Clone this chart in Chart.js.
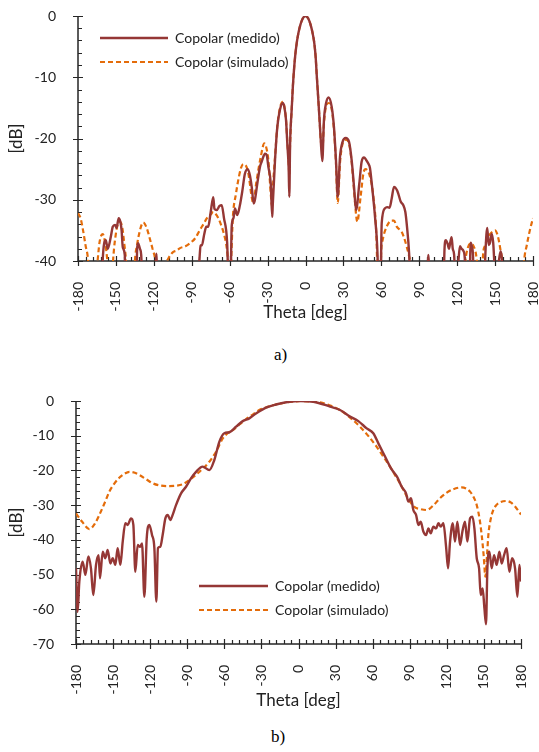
<!DOCTYPE html>
<html lang="es">
  <head>
    <meta charset="utf-8" />
    <title>Copolar medido vs simulado</title>
    <style>
      * {
        margin: 0;
        padding: 0;
      }
      body {
        width: 539px;
        height: 752px;
        background: #fff;
        position: relative;
        overflow: hidden;
      }
      canvas {
        position: absolute;
        left: 0;
      }
      #chartA { top: 0; }
      #chartB { top: 380px; }
      .cap {
        position: absolute;
        font-family: "Liberation Serif", "Times New Roman", serif;
        font-size: 17px;
        color: #000;
      }
    </style>
  </head>
  <body>
    <canvas id="chartA" width="539" height="340"></canvas>
    <canvas id="chartB" width="539" height="345"></canvas>
    <div class="cap" style="left: 274px; top: 345px">a)</div>
    <div class="cap" style="left: 271px; top: 727px">b)</div>

    <script src="https://cdn.jsdelivr.net/npm/chart.js"></script>

    <script>
      // ---- a) data: theta [deg] / level [dB] ----
      const thetaMedA = [
        -180, -162, -160.5, -158, -156.5, -154, -152.5, -150.7, -149.5, -147.8,
        -146.5, -145.5, -144.6, -143, -142, -134, -133.2, -132.5, -131, -130,
        -128.5, -119, -118, -117, -86, -84, -83, -82, -80, -78.5,
        -77, -75, -73, -72, -70.3, -68, -66.3, -64.5, -62, -60.5,
        -59.5, -58.4, -57, -55.8, -54, -52, -50, -48, -45.7, -44,
        -42.5, -41, -40, -38.1, -36, -34.7, -32, -30.7, -29.4, -27.5,
        -26.3, -25.9, -24.1, -22.3, -20.2, -18, -16.8, -15.4, -14.4, -13.3,
        -12.8, -12.2, -11, -10, -9, -8, -7, -6, -5, -4,
        -3, -2, -1, 0, 1, 2, 3, 4, 5, 6,
        7, 8, 9, 10, 11, 12, 13.3, 14.6, 16.2, 18.3,
        20.7, 22.5, 24.1, 25.5, 27.3, 29.4, 31.8, 34.4, 36.5, 38.4,
        40, 42.6, 44.4, 46.3, 48, 49.7, 51, 52.4, 55, 57,
        57.8, 59.2, 60.3, 62.9, 64.5, 66.5, 68.2, 70, 71, 72.5,
        73.4, 75.3, 77.4, 79, 80.3, 82, 83.5, 96, 97.2, 98.5,
        109, 110, 111, 112.6, 113.5, 114.5, 115.6, 116.5, 117.6, 119,
        121, 122.2, 123.5, 124.8, 126, 127, 129.5, 130.7, 131.5, 132.5,
        133.5, 141, 142.5, 143.8, 145, 146, 147.3, 148.5, 149.2, 150.5,
        153, 154.4, 155.5, 156.5, 180,
      ];
      const dbMedA = [
        -50, -50, -40, -36.6, -38, -36, -34.4, -34.1, -34.6, -33,
        -33.6, -35, -37.7, -39, -46, -46, -38, -37.1, -38, -39,
        -46, -46, -38.8, -46, -46, -40, -37.5, -37.4, -35.5, -34.4,
        -34.4, -32, -29.6, -31.5, -31.7, -31, -30.9, -33, -37, -46,
        -46, -34.4, -33, -31.4, -32.5, -31, -28.6, -25.8, -25, -26,
        -28, -30.6, -30, -27.3, -24.6, -23.8, -22.5, -22.7, -24.6, -27.3,
        -32.8, -30.8, -23.5, -18.1, -15.3, -14.2, -14.8, -17, -20.8, -25,
        -29.5, -21, -15.5, -11.5, -8.5, -6.2, -4.5, -3.2, -2.2, -1.4,
        -0.8, -0.35, -0.1, 0, -0.1, -0.35, -0.8, -1.4, -2.2, -3.2,
        -4.5, -6.6, -10, -13.2, -16.5, -20, -23.7, -17, -14.3, -13.3,
        -14.8, -18.1, -23.5, -29.5, -23, -20.5, -19.9, -20.5, -23.5, -27.9,
        -31.7, -27.3, -23.8, -23.1, -23.5, -24.1, -24.8, -27.3, -32.8, -39,
        -46, -46, -33.8, -31.4, -31.2, -31.3, -29.8, -27.9, -28, -28.5,
        -29, -30.3, -30.9, -32, -34.4, -38.8, -46, -46, -39, -46,
        -46, -38, -36.6, -37.3, -38, -37, -36.1, -38, -39, -46,
        -40, -37.6, -38, -38.3, -39.5, -46, -46, -37, -37.5, -39,
        -46, -46, -38, -34.6, -37.4, -37, -35.6, -37, -39.5, -46,
        -40, -38.4, -40, -46, -46,
      ];
      const thetaSimA = [
        -180, -178, -176, -174, -172, -170.5, -167, -164.5, -163, -161.5,
        -160.4, -159, -157.5, -156, -154.5, -153, -151.5, -150, -148.5, -146.8,
        -145, -143.5, -142, -140.5, -136.5, -135, -133, -131, -129.5, -128.3,
        -127, -125, -123, -121, -119, -117.7, -116, -112, -110, -108.5,
        -106, -104.6, -102, -99.3, -95, -91.4, -87, -83.5, -80.5, -78,
        -75, -73, -71.6, -69, -66.3, -64, -62.3, -61, -60, -59,
        -57.5, -55, -53.2, -51, -49.2, -47, -45.2, -42.6, -41.3, -39,
        -35.4, -32.6, -31, -29.4, -27.3, -26.5, -25.5, -24.1, -22.3, -20.2,
        -18, -16.8, -15.4, -14.4, -13.3, -12.8, -12.2, -11, -10, -9,
        -8, -7, -6, -5, -4, -3, -2, -1, 0, 1,
        2, 3, 4, 5, 6, 7, 8, 9, 10, 11,
        12, 13.3, 14.6, 16.2, 18.3, 20.7, 22.5, 24.1, 25.5, 27.3,
        29.4, 31.8, 34.4, 36.5, 38.4, 41, 43.6, 45.8, 47.6, 49.5,
        51, 53.7, 56.3, 57.3, 58.8, 60, 61, 64.2, 68.2, 70,
        72.2, 76, 78, 80, 81.7, 83, 84.5, 124.5, 126.5, 128.5,
        131, 133.5, 135, 136, 137, 139, 140.5, 142, 144, 146,
        148, 150, 151.5, 153, 154.5, 155.5, 156.5, 171.5, 173, 175,
        177.5, 180,
      ];
      const dbSimA = [
        -32.2, -33, -35, -37.5, -40, -46, -46, -40, -37, -35.8,
        -35.6, -36.5, -38.5, -42, -46, -42, -38, -35.5, -34, -33.6,
        -34.5, -37, -40, -46, -46, -40, -37, -35, -34, -33.7,
        -34, -35, -36.5, -38, -39.5, -41, -46, -46, -40.5, -39.6,
        -38.8, -38.5, -38.3, -37.9, -37.6, -37.1, -36.2, -34.9, -33.9, -33,
        -32.4, -32, -32.2, -33, -34.4, -36, -37.9, -41, -46, -41,
        -33, -29, -26.8, -24.8, -24.2, -24.5, -25.7, -29.5, -30.6, -27.3,
        -23, -20.8, -21.5, -23.5, -29.5, -31, -27, -23, -18, -15,
        -14, -14.7, -17, -20.5, -24, -26, -21, -15.5, -11.5, -8.5,
        -6.2, -4.5, -3.2, -2.2, -1.4, -0.8, -0.35, -0.1, 0, -0.1,
        -0.35, -0.8, -1.4, -2.2, -3.2, -4.5, -6.6, -10, -13.2, -16.5,
        -20, -22, -17.5, -14.8, -14.2, -15.2, -18.5, -24, -30.5, -24,
        -20.8, -20.2, -20.8, -23.8, -28.5, -33.6, -29.5, -25.7, -25, -25.4,
        -26.2, -29.5, -37.1, -46, -46, -38, -36.6, -34.4, -33.4, -33.4,
        -34.4, -35.2, -36.2, -37.6, -39, -40.5, -46, -46, -40, -37.8,
        -37.1, -37.8, -39, -41, -46, -46, -39, -37.5, -36.3, -35.6,
        -35.2, -35, -35.5, -36.7, -38.5, -40, -46, -46, -40, -37.5,
        -35, -33,
      ];

      // ---- b) data ----
      const thetaMedB = [
        -180, -178.7, -177.3, -174.6, -172.4, -170, -167.9, -166, -163.8, -161.7,
        -160.6, -158.4, -156.3, -154.4, -152.2, -150.3, -148.2, -146.3, -144.1, -142.2,
        -140.1, -138.2, -135.5, -133.6, -132, -130.1, -128.2, -126.6, -124.7, -122.8,
        -120.7, -118.5, -116.6, -115, -113.7, -111.8, -109.9, -107.7, -105.8, -103.7,
        -101.8, -99.1, -95, -91, -87, -82.9, -77.5, -72.1, -68.1, -64,
        -60, -55.9, -50.5, -45.1, -39.8, -34.4, -26.3, -18.2, -7.4, 1.2,
        12, 25.5, 33.6, 41.7, 48.4, 55.2, 60.5, 65, 70, 75,
        80, 83.5, 87, 88.9, 91, 92.9, 95.1, 97, 98.9, 101,
        103.2, 105.1, 107, 109.1, 111.3, 113.2, 115.1, 117.2, 119.4, 121,
        122.6, 124.8, 126.6, 128.5, 130.7, 132.6, 134.7, 136.6, 138.8, 140.7,
        142.3, 144.2, 146.1, 147.4, 149, 150.4, 151.7, 152.8, 154.4, 156.3,
        158.2, 160.3, 162.5, 164.4, 166.3, 168.4, 170.6, 172.8, 175.2, 177.1,
        178.7, 180,
      ];
      const dbMedB = [
        -48.2, -60.7, -52, -46.3, -50.1, -44.8, -48.2, -55.9, -47.2, -44.4,
        -51.1, -43.4, -45.3, -42.9, -46.8, -45.3, -47.2, -42.4, -47.2, -40.5,
        -35.2, -35.7, -33.8, -35.7, -49.2, -41.5, -42, -41, -56.4, -39.6,
        -35.7, -38.6, -42.4, -57.8, -42.4, -42, -38.6, -33.8, -32.8, -34.3,
        -32.8, -30, -26.6, -24.7, -22.3, -20.4, -18.9, -19.9, -17, -11.7,
        -9.3, -9, -7.4, -5.8, -5, -3.6, -1.9, -1, -0.2, 0,
        -0.2, -1.6, -2.6, -4.5, -5.8, -7.9, -9.3, -12.5, -16, -19.5,
        -22, -24.7, -26.6, -29, -28, -31.4, -32.8, -35.7, -34.8, -37.6,
        -38.6, -36.7, -38.1, -36.2, -36.7, -35.2, -36.2, -35.2, -42, -48.2,
        -40.5, -35.2, -40.5, -34.8, -41.5, -37.6, -34.8, -40.5, -33.8, -33.3,
        -36.7, -45.3, -48.2, -55.9, -54, -59.7, -64.3, -48.2, -43.4, -48.2,
        -44.4, -47.2, -43.4, -46.8, -44.4, -42.4, -49.2, -45.3, -48.2, -56.4,
        -47.2, -52,
      ];
      const thetaSimB = [
        -180, -175, -169.2, -165, -161.1, -157, -153, -149, -145, -141,
        -136.8, -133, -128.8, -123, -118, -111, -104.5, -99, -93.7, -88.3,
        -84, -80.2, -76, -72.1, -66.7, -61.3, -57, -53.2, -47.5, -42.4,
        -37, -31.7, -25, -18.2, -11, -4.7, 2, 9, 17.4, 25,
        33.6, 41.5, 49.8, 57, 63.3, 69, 74, 78, 82.1, 86,
        90.2, 94, 98.3, 103.7, 109, 114.5, 120, 125.3, 132, 135.5,
        138.8, 141.5, 144.2, 146.5, 148.2, 149.8, 151.2, 152.5, 153.6, 155.5,
        157.6, 160, 163, 168.4, 172, 175.2, 178, 180,
      ];
      const dbSimB = [
        -32.4, -34.8, -36.9, -35.5, -32.8, -29.5, -26.1, -23.8, -22.1, -21,
        -20.4, -20.6, -21.3, -22.6, -23.7, -24.4, -24.5, -24.4, -24, -22.8,
        -21.6, -20.4, -19, -17.5, -14.6, -10.8, -9.2, -8.4, -6.7, -5.2,
        -3.9, -2.6, -1.7, -1, -0.5, -0.2, 0, -0.1, -0.4, -1.2,
        -2.6, -4.7, -7.4, -10.3, -13.2, -16.2, -18.9, -21.3, -23.7, -26.4,
        -29, -30.6, -31.1, -31.4, -30.1, -28, -26.4, -25.4, -24.9, -25.2,
        -26.1, -27.6, -30, -34, -38.6, -44.5, -50.6, -44.5, -38.6, -34,
        -31.4, -30, -29.2, -28.8, -29.3, -30.4, -31.7, -32.7,
      ];

      const seriesNames = ["Copolar (medido)", "Copolar (simulado)"];
      const thetaTicks = { min: -180, max: 180, step: 30, minor: 6 };

      const RED = "#953735";
      const ORANGE = "#E46C0A";
      const TEXT = "#222";
      const AXIS = "#262626";
      const FONT = "Lato, 'Noto Sans', sans-serif";

      const toPoints = (xs, ys) => xs.map((x, i) => ({ x: x, y: ys[i] }));

      // axis lines + Excel style ticks (major cross, minor inside)
      const excelAxes = {
        id: "excelAxes",
        beforeDatasetsDraw(chart, args, opts) {
          const { ctx, chartArea, scales } = chart;
          const { left, right, top, bottom } = chartArea;
          const x = scales.x;
          const y = scales.y;
          ctx.save();
          ctx.strokeStyle = AXIS;
          ctx.lineWidth = 1.5;
          ctx.beginPath();
          ctx.moveTo(left, top);
          ctx.lineTo(left, bottom);
          ctx.lineTo(right, bottom);
          ctx.stroke();

          ctx.lineWidth = 1.2;
          ctx.beginPath();
          for (let v = x.min; v <= x.max + 0.001; v += opts.xMinor) {
            const px = Math.round(x.getPixelForValue(v)) + 0.5;
            const major = Math.abs(v % opts.xMajor) < 0.001;
            ctx.moveTo(px, major ? bottom - 5 : bottom - 4);
            ctx.lineTo(px, major ? bottom + 5 : bottom);
          }
          for (let v = y.min; v <= y.max + 0.001; v += opts.yMinor) {
            const py = Math.round(y.getPixelForValue(v)) + 0.5;
            const major = Math.abs(v % opts.yMajor) < 0.001;
            ctx.moveTo(major ? left - 5 : left, py);
            ctx.lineTo(major ? left + 5 : left + 4, py);
          }
          ctx.stroke();
          ctx.restore();
        },
      };

      // legend drawn inside the plot, Excel style
      const sampleLegend = {
        id: "sampleLegend",
        afterDatasetsDraw(chart, args, opts) {
          const ctx = chart.ctx;
          ctx.save();
          chart.data.datasets.forEach((ds, i) => {
            const yy = opts.y + i * opts.gap;
            ctx.strokeStyle = ds.borderColor;
            ctx.lineWidth = ds.borderWidth;
            ctx.setLineDash(ds.borderDash || []);
            ctx.beginPath();
            ctx.moveTo(opts.x, yy);
            ctx.lineTo(opts.x + opts.len, yy);
            ctx.stroke();
            ctx.setLineDash([]);
            ctx.fillStyle = TEXT;
            ctx.font = "14px " + FONT;
            ctx.textBaseline = "middle";
            ctx.fillText(ds.label, opts.x + opts.len + 7, yy);
          });
          ctx.restore();
        },
      };

      function makeChart(id, med, sim, cfg) {
        const datasets = [
          {
            label: seriesNames[0],
            data: med,
            borderColor: RED,
            borderWidth: 2.4,
            pointRadius: 0,
            cubicInterpolationMode: "monotone",
          },
          {
            label: seriesNames[1],
            data: sim,
            borderColor: ORANGE,
            borderWidth: 2.2,
            borderDash: [5, 3],
            pointRadius: 0,
            cubicInterpolationMode: "monotone",
          },
        ];
        return new Chart(document.getElementById(id), {
          type: "line",
          data: { datasets: datasets },
          options: {
            responsive: false,
            animation: false,
            layout: {
              autoPadding: false,
              padding: { top: cfg.padTop, right: cfg.padRight, left: 0, bottom: 0 },
            },
            plugins: {
              legend: { display: false },
              tooltip: { enabled: false },
              excelAxes: { xMajor: thetaTicks.step, xMinor: thetaTicks.minor, yMajor: 10, yMinor: 2 },
              sampleLegend: cfg.legend,
            },
            scales: {
              x: {
                type: "linear",
                min: thetaTicks.min,
                max: thetaTicks.max,
                grid: { display: false, drawTicks: false },
                border: { display: false },
                ticks: {
                  stepSize: thetaTicks.step,
                  autoSkip: false,
                  minRotation: 90,
                  maxRotation: 90,
                  padding: 21,
                  color: TEXT,
                  font: { family: FONT, size: 14 },
                },
                title: {
                  display: true,
                  text: "Theta [deg]",
                  color: TEXT,
                  font: { family: FONT, size: 17 },
                  padding: { top: 0, bottom: cfg.titleBottom },
                },
                afterFit(s) {
                  s.height = cfg.xHeight;
                  s.paddingLeft = 0;
                  s.paddingRight = 0;
                },
              },
              y: {
                min: cfg.yMin,
                max: 0,
                grid: { display: false, drawTicks: false },
                border: { display: false },
                ticks: {
                  stepSize: 10,
                  padding: 22,
                  color: TEXT,
                  font: { family: FONT, size: 14 },
                },
                title: {
                  display: true,
                  text: "[dB]",
                  color: TEXT,
                  font: { family: FONT, size: 17 },
                  padding: { top: 6, bottom: 0 },
                },
                afterFit(s) {
                  s.width = cfg.yWidth;
                  s.paddingTop = 0;
                  s.paddingBottom = 0;
                },
              },
            },
          },
          plugins: [excelAxes, sampleLegend],
        });
      }

      makeChart("chartA", toPoints(thetaMedA, dbMedA), toPoints(thetaSimA, dbSimA), {
        padTop: 16,
        padRight: 6,
        yMin: -40,
        yWidth: 78,
        xHeight: 79,
        titleBottom: 17,
        legend: { x: 100, y: 38, gap: 24, len: 68 },
      });

      makeChart("chartB", toPoints(thetaMedB, dbMedB), toPoints(thetaSimB, dbSimB), {
        padTop: 21,
        padRight: 18,
        yMin: -70,
        yWidth: 76,
        xHeight: 81,
        titleBottom: 14,
        legend: { x: 199, y: 206, gap: 24, len: 69 },
      });
    </script>
  </body>
</html>
